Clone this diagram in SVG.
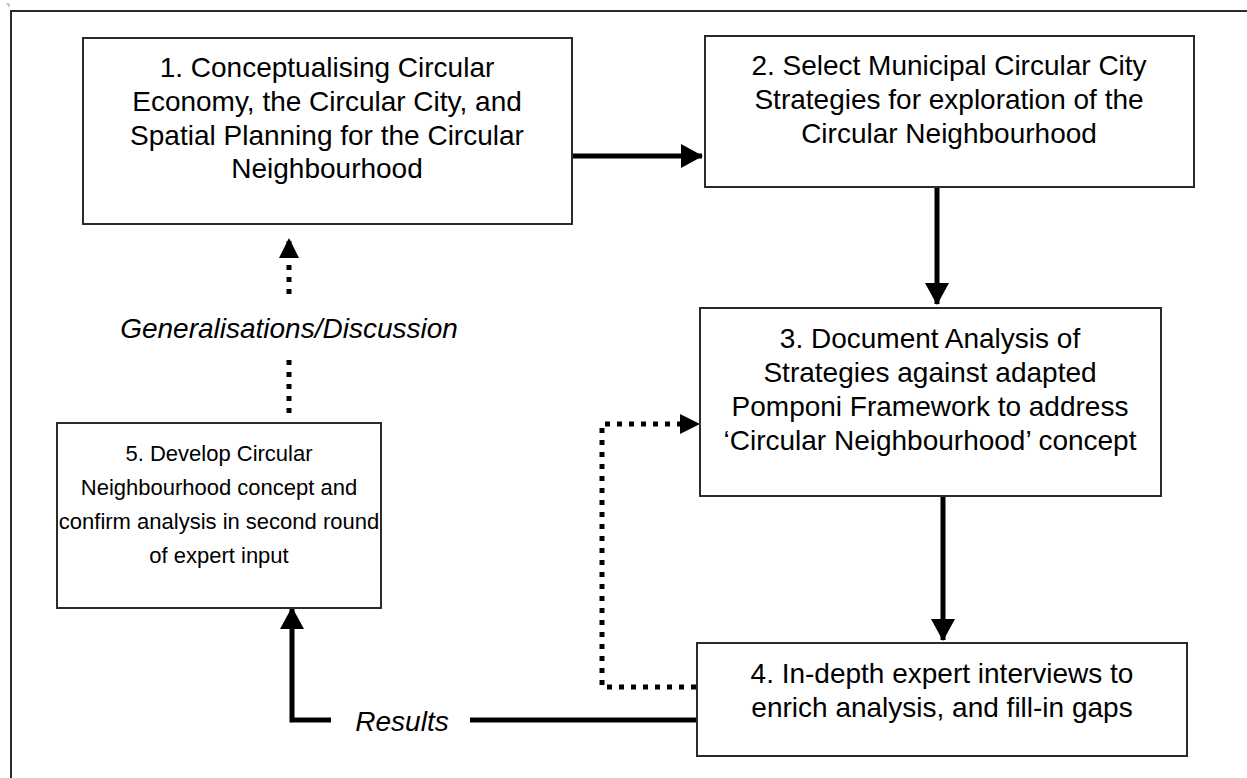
<svg xmlns="http://www.w3.org/2000/svg" width="1247" height="778" viewBox="0 0 1247 778">
  <defs>
    <style>
      .box { fill: #ffffff; stroke: #2b2b2b; stroke-width: 2; }
      .frame { fill: none; stroke: #2b2b2b; stroke-width: 2; }
      .lbl { font-family: "Liberation Sans", Arial, sans-serif; font-size: 28px; fill: #000; text-anchor: middle; }
      .small { font-size: 22px; }
      .it { font-style: italic; }
      .solid { fill: none; stroke: #000; stroke-width: 5; }
      .dot { fill: none; stroke: #000; stroke-width: 5; stroke-dasharray: 5 7; }
    </style>
    <marker id="head" markerWidth="22" markerHeight="24" refX="21" refY="12" orient="auto" markerUnits="userSpaceOnUse">
      <path d="M0,0 L22,12 L0,24 Z" fill="#000"/>
    </marker>
    <marker id="headDot" markerWidth="20" markerHeight="20" refX="19" refY="10" orient="auto" markerUnits="userSpaceOnUse">
      <path d="M0,0 L20,10 L0,20 Z" fill="#000"/>
    </marker>
  </defs>

  <rect width="1247" height="778" fill="#ffffff"/>

  <!-- page frame -->
  <path class="frame" d="M11,778 V11 H1247"/>
  <path d="M6,4 h3 v3" fill="none" stroke="#999" stroke-width="1"/>

  <!-- connectors -->
  <g id="connectors">
    <line class="solid" x1="573" y1="156" x2="702" y2="156" marker-end="url(#head)"/>
    <line class="solid" x1="937" y1="188" x2="937" y2="304" marker-end="url(#head)"/>
    <line class="solid" x1="943" y1="497" x2="943" y2="640" marker-end="url(#head)"/>
    <polyline class="dot" points="696,687 602,687 602,424 699,424" marker-end="url(#headDot)"/>
    <line class="dot" x1="289" y1="413" x2="289" y2="356"/>
    <line class="dot" x1="289" y1="294" x2="289" y2="239" marker-end="url(#headDot)"/>
    <line class="solid" x1="697" y1="720" x2="470" y2="720"/>
    <polyline class="solid" points="331,720 292,720 292,608" marker-end="url(#head)"/>
    <text class="lbl it" x="289" y="338">Generalisations/Discussion</text>
    <text class="lbl it" x="402" y="731">Results</text>
  </g>

  <g id="node1">
    <rect class="box" x="83" y="38" width="489" height="186"/>
    <text class="lbl" x="327" y="77">1. Conceptualising Circular</text>
    <text class="lbl" x="327" y="111">Economy, the Circular City, and</text>
    <text class="lbl" x="327" y="145">Spatial Planning for the Circular</text>
    <text class="lbl" x="327" y="178">Neighbourhood</text>
  </g>

  <g id="node2">
    <rect class="box" x="705" y="36" width="489" height="151"/>
    <text class="lbl" x="949" y="75">2. Select Municipal Circular City</text>
    <text class="lbl" x="949" y="109">Strategies for exploration of the</text>
    <text class="lbl" x="949" y="143">Circular Neighbourhood</text>
  </g>

  <g id="node3">
    <rect class="box" x="700" y="308" width="461" height="188"/>
    <text class="lbl" x="930" y="348">3. Document Analysis of</text>
    <text class="lbl" x="930" y="382">Strategies against adapted</text>
    <text class="lbl" x="930" y="416">Pomponi Framework to address</text>
    <text class="lbl" x="930" y="450">‘Circular Neighbourhood’ concept</text>
  </g>

  <g id="node4">
    <rect class="box" x="697" y="643" width="490" height="113"/>
    <text class="lbl" x="942" y="683">4. In-depth expert interviews to</text>
    <text class="lbl" x="942" y="717">enrich analysis, and fill-in gaps</text>
  </g>

  <g id="node5">
    <rect class="box" x="57" y="423" width="324" height="185"/>
    <text class="lbl small" x="219" y="461">5. Develop Circular</text>
    <text class="lbl small" x="219" y="495">Neighbourhood concept and</text>
    <text class="lbl small" x="219" y="529">confirm analysis in second round</text>
    <text class="lbl small" x="219" y="563">of expert input</text>
  </g>
</svg>
